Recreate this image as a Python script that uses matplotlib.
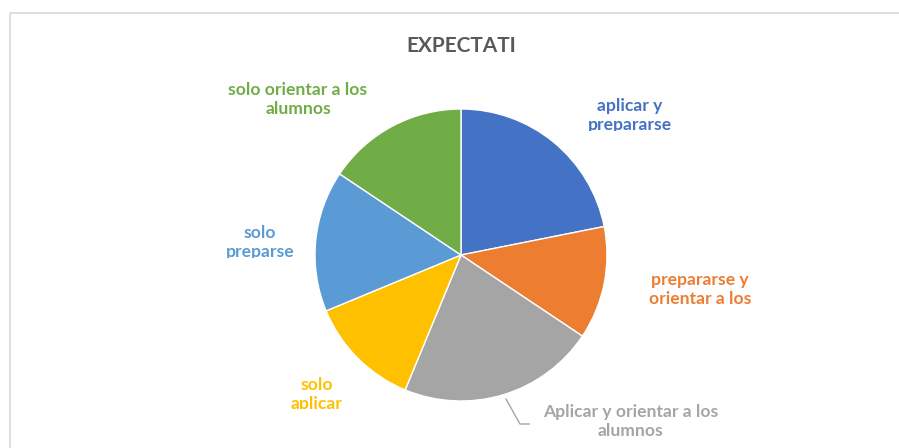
import matplotlib

matplotlib.use("Agg")
import matplotlib.pyplot as plt  # noqa: E402
from matplotlib.transforms import Bbox, TransformedBbox  # noqa: E402

plt.rcParams["font.family"] = ["Lato", "DejaVu Sans"]

# Slice counts, clockwise from 12 o'clock
categories = [
    "aplicar y prepararse",
    "prepararse y orientar a los alumnos",
    "Aplicar y orientar a los alumnos",
    "solo aplicar",
    "solo preparse",
    "solo orientar a los alumnos",
]
counts = [7, 4, 7, 4, 5, 5]
# Labels as Excel shows them (wrapped, some cut off)
shown_labels = [
    ["aplicar y", "prepararse"],
    ["prepararse y", "orientar a los"],
    ["Aplicar y orientar a los", "alumnos"],
    ["solo", "aplicar"],
    ["solo", "preparse"],
    ["solo orientar a los", "alumnos"],
]
colors = ["#4472C4", "#ED7D31", "#A5A5A5", "#FFC000", "#5B9BD5", "#70AD47"]
title = "EXPECTATI"

W, H = 899, 448
fig = plt.figure(figsize=(W / 100, H / 100), dpi=100)
ax = fig.add_axes([0, 0, 1, 1])
ax.set_xlim(0, W)
ax.set_ylim(0, H)
ax.set_aspect("equal")
ax.axis("off")


def py(y):
    # pixel row (from top) -> data y
    return H - y


# chart area border (only top/left visible in the crop)
ax.plot([9.5, 9.5, W], [py(H), py(12.5), py(12.5)], color="#D9D9D9", lw=1.2)

ax.pie(counts, colors=colors, startangle=90, counterclock=False,
       center=(461, py(255)), radius=146,
       wedgeprops=dict(edgecolor="white", linewidth=1.0))
ax.set_xlim(0, W)
ax.set_ylim(0, H)

ax.text(461, py(52), title, ha="center", va="baseline", fontsize=15,
        fontweight="bold", color="#595959")

# (x centre, first baseline row, clip row or None)
label_pos = [
    (630, 111, 131),
    (700, 285, None),
    (631, 417, None),
    (317, 390, 409),
    (260, 238, 258),
    (298, 95, None),
]
LINE = 18.5
for lines, (x, y0, clip), c in zip(shown_labels, label_pos, colors):
    for i, line in enumerate(lines):
        t = ax.text(x, py(y0 + i * LINE), line, ha="center", va="baseline",
                    fontsize=12.6, fontweight="bold", color=c)
        if clip is not None:
            box = Bbox([[0, py(clip)], [W, H]])
            t.set_clip_box(TransformedBbox(box, ax.transData))
            t.set_clip_on(True)

# leader line for the grey slice
ax.plot([506, 520, 529], [py(399), py(424), py(424)], color="#A5A5A5", lw=1.0)

fig.savefig("out.png", dpi=100)
